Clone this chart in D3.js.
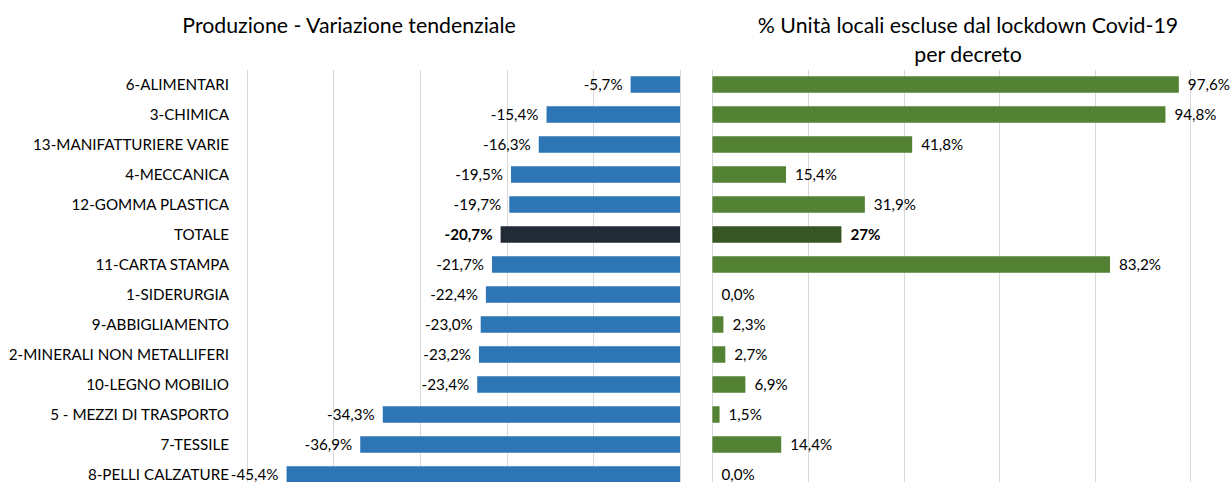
<!DOCTYPE html>
<html>
<head>
<meta charset="utf-8">
<script src="https://cdn.jsdelivr.net/npm/d3@7"></script>
<style>
  body { margin: 0; background: #fff; }
  svg { display: block; font-family: Lato, "Open Sans", sans-serif; }
  .grid line { stroke: #d9d9d9; stroke-width: 1; }
  .cat { font-size: 15.2px; fill: #000; }
  .val { font-size: 15.2px; fill: #000; }
  .title { font-size: 21.3px; fill: #000; }
</style>
</head>
<body>
<svg id="chart" width="1232" height="482"></svg>
<script>
// categories, top to bottom
const categories = [
  '6-ALIMENTARI', '3-CHIMICA', '13-MANIFATTURIERE VARIE', '4-MECCANICA',
  '12-GOMMA PLASTICA', 'TOTALE', '11-CARTA STAMPA', '1-SIDERURGIA',
  '9-ABBIGLIAMENTO', '2-MINERALI NON METALLIFERI', '10-LEGNO MOBILIO',
  '5 - MEZZI DI TRASPORTO', '7-TESSILE', '8-PELLI CALZATURE'
];
// Produzione - variazione tendenziale (%)
const produzione = [-5.7, -15.4, -16.3, -19.5, -19.7, -20.7, -21.7, -22.4, -23.0, -23.2, -23.4, -34.3, -36.9, -45.4];
// % unita locali escluse dal lockdown
const escluse = [97.6, 94.8, 41.8, 15.4, 31.9, 27, 83.2, 0.0, 2.3, 2.7, 6.9, 1.5, 14.4, 0.0];
const leftTicks = [-50, -40, -30, -20, -10, 0];
const rightTicks = [0, 20, 40, 60, 80, 100];

const svg = d3.select('#chart');

const it = d3.formatLocale({decimal: ',', thousands: '.', grouping: [3], currency: ['', '€'], minus: '-'});
const fmt1 = it.format('.1f');
const fmt0 = it.format('.0f');

let y = d3.scaleBand().domain(categories).range([69.5, 69.5 + 30 * categories.length]).paddingInner(0.45).paddingOuter(0.225);

let xl = d3.scaleLinear().domain([-50, 0]).range([246.7, 680]);
let xr = d3.scaleLinear().domain([0, 100]).range([712.4, 1190.3]);

const gridTop = 70, gridBottom = 500;

// gridlines
svg.append('g').attr('class', 'grid')
    .selectAll('line').data(leftTicks).enter().append('line')
    .attr('x1', d => Math.round(xl(d)) + 0.5).attr('x2', d => Math.round(xl(d)) + 0.5)
    .attr('y1', gridTop).attr('y2', gridBottom);

svg.append('g').attr('class', 'grid')
    .selectAll('line').data(rightTicks).enter().append('line')
    .attr('x1', d => Math.round(xr(d)) + 0.5).attr('x2', d => Math.round(xr(d)) + 0.5)
    .attr('y1', gridTop).attr('y2', gridBottom);

const isTot = (c) => c === 'TOTALE';

// left bars
let left = svg.append('g');
left.selectAll('rect').data(categories).enter().append('rect')
    .attr('x', (c, i) => xl(produzione[i]))
    .attr('width', (c, i) => xl(0) - xl(produzione[i]))
    .attr('y', c => y(c))
    .attr('height', y.bandwidth())
    .attr('fill', c => isTot(c) ? '#222a35' : '#2e75b6');

left.selectAll('text').data(categories).enter().append('text')
    .attr('class', 'val')
    .attr('x', (c, i) => xl(produzione[i]) - 8)
    .attr('y', c => y(c) + y.bandwidth() / 2)
    .attr('dy', '0.35em')
    .attr('text-anchor', 'end')
    .style('font-weight', c => isTot(c) ? 'bold' : 'normal')
    .text((c, i) => fmt1(produzione[i]) + '%');

// right bars
let right = svg.append('g');
right.selectAll('rect').data(categories).enter().append('rect')
    .attr('x', xr(0))
    .attr('width', (c, i) => xr(escluse[i]) - xr(0))
    .attr('y', c => y(c))
    .attr('height', y.bandwidth())
    .attr('fill', c => isTot(c) ? '#375623' : '#548235');

right.selectAll('text').data(categories).enter().append('text')
    .attr('class', 'val')
    .attr('x', (c, i) => xr(escluse[i]) + 9)
    .attr('y', c => y(c) + y.bandwidth() / 2)
    .attr('dy', '0.35em')
    .style('font-weight', c => isTot(c) ? 'bold' : 'normal')
    .text((c, i) => (isTot(c) ? fmt0(escluse[i]) : fmt1(escluse[i])) + '%');

// category labels
svg.append('g').selectAll('text').data(categories).enter().append('text')
    .attr('class', 'cat')
    .attr('x', 229)
    .attr('y', c => y(c) + y.bandwidth() / 2)
    .attr('dy', '0.35em')
    .attr('text-anchor', 'end')
    .text(c => c);

// titles
svg.append('text').attr('class', 'title')
    .attr('x', 349).attr('y', 33).attr('text-anchor', 'middle')
    .text('Produzione - Variazione tendenziale');

svg.append('text').attr('class', 'title')
    .attr('x', 968).attr('y', 33).attr('text-anchor', 'middle')
    .text('% Unità locali escluse dal lockdown Covid-19');
svg.append('text').attr('class', 'title')
    .attr('x', 968).attr('y', 62).attr('text-anchor', 'middle')
    .text('per decreto');
</script>
</body>
</html>
